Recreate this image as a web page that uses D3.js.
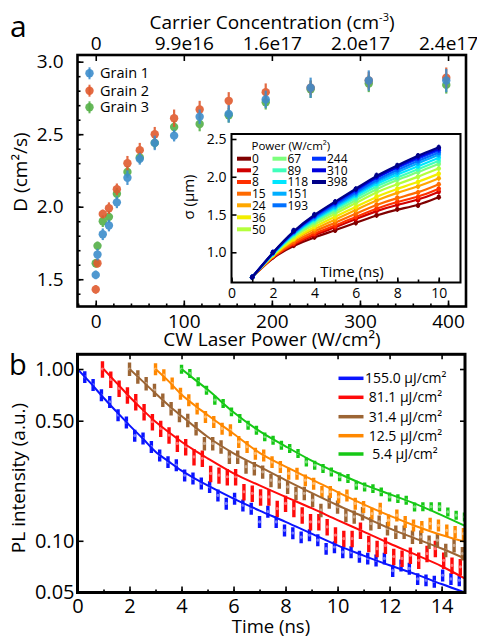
<!DOCTYPE html>
<html><head><meta charset="utf-8">
<script src="https://cdn.jsdelivr.net/npm/d3@7"></script>
<style>
html,body{margin:0;padding:0;background:#fff;}
svg{display:block;font-family:"Open Sans",sans-serif;}
</style></head><body>
<svg id="chart" width="477" height="639"></svg>
<script>
// ---------------- DATA ----------------
// Panel a: diffusion coefficient vs CW laser power
const powers = [0,2,8,15,24,36,50,67,89,118,151,193,244,310,398];
const grainNames = ["Grain 1","Grain 2","Grain 3"];
const grain1D = [1.53,1.67,1.81,1.87,2.03,2.20,2.33,2.44,2.49,2.62,2.64,2.74,2.82,2.87,2.87];
const grain2D = [1.43,1.61,1.95,1.99,2.12,2.30,2.39,2.50,2.61,2.67,2.73,2.79,2.82,2.87,2.89];
const grain3D = [1.61,1.73,1.90,1.93,2.09,2.24,2.34,2.44,2.55,2.57,2.63,2.72,2.81,2.85,2.84];
const grain1Err = [0.03,0.04,0.04,0.04,0.04,0.05,0.04,0.05,0.04,0.05,0.06,0.06,0.07,0.07,0.08];
const grain2Err = [0.03,0.03,0.03,0.04,0.04,0.05,0.05,0.05,0.06,0.06,0.06,0.06,0.05,0.06,0.07];
const grain3Err = [0.03,0.03,0.04,0.04,0.04,0.04,0.04,0.04,0.04,0.05,0.05,0.05,0.06,0.06,0.06];
const bottomTicksA = [0,100,200,300,400];
const carrierLabels = ["0","9.9e16","1.6e17","2.0e17","2.4e17"];
const leftTicksA = [1.5,2.0,2.5,3.0];

// Inset: sigma vs time for each power
const insetTimes = [1,2,3,4,5,6,7,8,9,10];
const sigma_0   = [0.67,0.94,1.09,1.20,1.29,1.39,1.49,1.57,1.62,1.73];
const sigma_2   = [0.67,0.95,1.11,1.23,1.33,1.44,1.55,1.63,1.69,1.80];
const sigma_8   = [0.67,0.95,1.12,1.25,1.35,1.47,1.58,1.67,1.73,1.84];
const sigma_15  = [0.67,0.96,1.14,1.28,1.39,1.51,1.63,1.72,1.79,1.90];
const sigma_24  = [0.67,0.96,1.17,1.31,1.43,1.56,1.69,1.79,1.87,1.98];
const sigma_36  = [0.67,0.97,1.18,1.34,1.47,1.60,1.74,1.84,1.93,2.04];
const sigma_50  = [0.67,0.98,1.21,1.37,1.51,1.65,1.80,1.90,2.00,2.11];
const sigma_67  = [0.67,0.98,1.22,1.40,1.54,1.69,1.84,1.96,2.06,2.17];
const sigma_89  = [0.67,0.98,1.24,1.42,1.57,1.72,1.88,1.99,2.10,2.21];
const sigma_118 = [0.67,0.99,1.25,1.44,1.59,1.75,1.91,2.03,2.14,2.25];
const sigma_151 = [0.67,0.99,1.26,1.45,1.61,1.77,1.94,2.06,2.18,2.29];
const sigma_193 = [0.67,0.99,1.27,1.47,1.63,1.79,1.96,2.09,2.21,2.32];
const sigma_244 = [0.67,1.00,1.28,1.48,1.65,1.81,1.99,2.12,2.24,2.35];
const sigma_310 = [0.67,1.00,1.28,1.49,1.66,1.83,2.00,2.13,2.26,2.37];
const sigma_398 = [0.67,1.00,1.29,1.50,1.67,1.84,2.02,2.15,2.28,2.39];
const insetXTicks = [0,2,4,6,8,10];
const insetYTicks = [1.0,1.5,2.0,2.5];
const legendColumns = [[0,2,8,15,24,36,50],[67,89,118,151,193],[244,310,398]];

// Panel b: PL decay
const fluenceLabels = ["155.0 μJ/cm²"," 81.1 μJ/cm²"," 31.4 μJ/cm²"," 12.5 μJ/cm²","  5.4 μJ/cm²"];
const startTimes = [0.28, 0.96, 2.0, 3.0, 4.0];
const sampleStep = 0.32;
const pl155 = [0.90,0.81,0.705,0.645,0.54,0.49,0.41,0.395,0.353,0.315,0.288,0.276,0.241,0.231,0.216,0.206,0.184,0.165,0.176,0.161,0.154,0.129,0.148,0.129,0.115,0.111,0.105,0.108,0.101,0.090,0.092,0.086,0.086,0.081,0.079,0.077,0.079,0.067,0.072,0.069,0.060,0.059,0.058,0.063,0.060,0.059];
const pl81 = [1.0,0.87,0.772,0.705,0.645,0.564,0.493,0.451,0.4125,0.369,0.353,0.308,0.302,0.2466,0.241,0.236,0.236,0.193,0.189,0.180,0.180,0.154,0.165,0.154,0.141,0.129,0.129,0.1206,0.108,0.103,0.103,0.115,0.0964,0.090,0.094,0.081,0.079,0.0824,0.077,0.0843,0.090,0.077,0.072,0.0705];
const pl31 = [1.0,0.902,0.825,0.754,0.660,0.590,0.539,0.504,0.451,0.369,0.369,0.353,0.308,0.308,0.270,0.264,0.252,0.2255,0.2205,0.206,0.189,0.189,0.1724,0.1508,0.1686,0.1577,0.141,0.1379,0.1442,0.1261,0.1289,0.1179,0.1127,0.1127,0.1054,0.1054,0.0986,0.1008,0.0882,0.094,0.0843];
const pl12 = [1.0,0.923,0.825,0.721,0.660,0.590,0.527,0.493,0.451,0.441,0.377,0.353,0.3225,0.315,0.288,0.270,0.2466,0.2466,0.2255,0.2157,0.193,0.193,0.180,0.184,0.165,0.158,0.144,0.154,0.1318,0.141,0.129,0.1233,0.1206,0.126,0.123,0.115,0.113,0.110];
const pl5 = [1.0,0.943,0.844,0.754,0.660,0.631,0.564,0.516,0.472,0.441,0.4034,0.3858,0.3607,0.3449,0.3225,0.288,0.276,0.264,0.252,0.236,0.2306,0.211,0.206,0.2016,0.193,0.180,0.1763,0.1724,0.1577,0.158,0.158,0.158,0.1475,0.141,0.138];
const fitTimes = [0,0.5,1,1.5,2,2.5,3,3.5,4,4.5,5,6,7,8,9,10,11,12,13,14,14.9];
const fit155 = [1.0,0.83,0.68,0.565,0.47,0.395,0.33,0.29,0.256,0.231,0.21,0.176,0.150,0.129,0.110,0.094,0.082,0.072,0.064,0.056,0.050];
const fit81  = [null,null,1.0,0.83,0.69,0.58,0.493,0.43,0.377,0.336,0.302,0.247,0.21,0.18,0.155,0.132,0.113,0.0964,0.083,0.0711,0.0603];
const fit31  = [null,null,null,null,1.0,0.85,0.721,0.615,0.532,0.462,0.403,0.323,0.27,0.2256,0.19,0.161,0.138,0.118,0.103,0.0902,0.0788];
const fit12  = [null,null,null,null,null,null,1.0,0.85,0.71,0.615,0.54,0.42,0.325,0.27,0.228,0.192,0.163,0.14,0.122,0.108,0.0986];
const fit5   = [null,null,null,null,null,null,null,null,1.0,0.87,0.76,0.56,0.435,0.355,0.293,0.248,0.213,0.187,0.164,0.141,0.122];
const bXTicks = [0,2,4,6,8,10,12,14];
const bYTicks = [0.05,0.10,0.50,1.00];

// ---------------- STYLE ----------------
const grainColors = ["#3d8dcc","#e05a2e","#55b048"];
const powerColors = ["#800000","#d00000","#ff3000","#ff6a00","#ffa800","#f2ee00","#b4ff3c","#7dff7d","#40ffbc","#00e6ff","#00aeff","#0070ff","#0034ff","#0000dc","#000088"];
const fluenceColors = ["#0a14ff","#ff0a0a","#9c6534","#ff8800","#16c816"];
const relErr = [0.08,0.11,0.09,0.08,0.06];

const svg = d3.select("#chart");

// ================= PANEL A =================
const A = {l:77.5, r:466, t:55, b:306.5};
const xA = d3.scaleLinear().domain([-20.7, 420.4]).range([A.l, A.r]);
const yA = d3.scaleLinear().domain([1.312, 3.046]).range([A.b, A.t]);

const grains = [grain1D, grain2D, grain3D];
const grainErrs = [grain1Err, grain2Err, grain3Err];
const gA = svg.append("g");
[2,1,0].forEach(g => {
  const grp = gA.append("g").attr("opacity",0.9);
  powers.forEach((p,i) => {
    const d = grains[g][i], e = grainErrs[g][i];
    grp.append("line").attr("x1",xA(p)).attr("x2",xA(p))
      .attr("y1",yA(d-e)).attr("y2",yA(d+e))
      .attr("stroke",grainColors[g]).attr("stroke-width",2.2);
    grp.append("circle").attr("cx",xA(p)).attr("cy",yA(d)).attr("r",4.2)
      .attr("fill",grainColors[g]);
  });
});

function styleAxis(sel, fs){
  sel.select(".domain").remove();
  sel.selectAll(".tick line").attr("stroke","#000").attr("stroke-width",1.6);
  sel.selectAll(".tick text").attr("font-size",fs).attr("fill","#000").attr("font-family","'Open Sans',sans-serif");
}
svg.append("g").attr("transform",`translate(0,${A.b})`)
  .call(d3.axisBottom(xA).tickValues(d3.range(-20,421,20)).tickSize(-3).tickFormat(""))
  .call(s=>styleAxis(s,19));
svg.append("g").attr("transform",`translate(0,${A.b})`)
  .call(d3.axisBottom(xA).tickValues(bottomTicksA).tickSize(-6).tickPadding(8).tickFormat(d3.format("d")))
  .call(s=>styleAxis(s,19));
svg.append("g").attr("transform",`translate(0,${A.t})`)
  .call(d3.axisTop(xA).tickValues(bottomTicksA).tickSize(-6).tickPadding(5).tickFormat((d,i)=>carrierLabels[i]))
  .call(s=>styleAxis(s,19));
svg.append("g").attr("transform",`translate(${A.l},0)`)
  .call(d3.axisLeft(yA).tickValues(d3.range(14,31).map(v=>v/10)).tickSize(-3).tickFormat(""))
  .call(s=>styleAxis(s,19));
svg.append("g").attr("transform",`translate(${A.l},0)`)
  .call(d3.axisLeft(yA).tickValues(leftTicksA).tickSize(-6).tickPadding(14).tickFormat(d3.format(".1f")))
  .call(s=>styleAxis(s,19));
svg.append("rect").attr("x",A.l).attr("y",A.t).attr("width",A.r-A.l).attr("height",A.b-A.t)
  .attr("fill","none").attr("stroke","#000").attr("stroke-width",2.6);

const topTitle = svg.append("text").attr("x",272).attr("y",29).attr("text-anchor","middle").attr("font-size",19);
topTitle.append("tspan").text("Carrier Concentration (cm");
topTitle.append("tspan").attr("font-size",11).attr("dy",-8).text("-3");
topTitle.append("tspan").attr("dy",8).text(")");
svg.append("text").attr("x",272).attr("y",346).attr("text-anchor","middle").attr("font-size",19).text("CW Laser Power (W/cm²)");
svg.append("text").attr("transform","translate(27,172) rotate(-90)").attr("text-anchor","middle").attr("font-size",19).text("D (cm²/s)");
svg.append("text").attr("x",10).attr("y",37).attr("font-size",30).text("a");

const legY = [73.3, 90.7, 107.3];
grainNames.forEach((n,i)=>{
  svg.append("line").attr("x1",89.5).attr("x2",89.5).attr("y1",legY[i]-6).attr("y2",legY[i]+6)
    .attr("stroke",grainColors[i]).attr("stroke-width",2).attr("opacity",0.9);
  svg.append("circle").attr("cx",89.5).attr("cy",legY[i]).attr("r",4.2).attr("fill",grainColors[i]).attr("opacity",0.9);
  svg.append("text").attr("x",100).attr("y",legY[i]+5).attr("font-size",14.5).text(n);
});

// ================= INSET =================
const I = {l:231.5, r:460.5, t:134, b:282.5};
const xI = d3.scaleLinear().domain([0, 11.05]).range([I.l, I.r]);
const yI = d3.scaleLinear().domain([0.60, 2.566]).range([I.b, I.t]);
svg.append("rect").attr("x",I.l).attr("y",I.t).attr("width",I.r-I.l).attr("height",I.b-I.t).attr("fill","#fff");

const sigmaSeries = [sigma_0,sigma_2,sigma_8,sigma_15,sigma_24,sigma_36,sigma_50,sigma_67,sigma_89,sigma_118,sigma_151,sigma_193,sigma_244,sigma_310,sigma_398];
const lineI = d3.line().x((d,i)=>xI(insetTimes[i])).y(d=>yI(d)).curve(d3.curveBasis);
const gI = svg.append("g");
sigmaSeries.forEach((s,k)=>{
  gI.append("path").attr("d",lineI(s)).attr("fill","none").attr("stroke",powerColors[k]).attr("stroke-width",2.2);
  s.forEach((v,i)=>{
    gI.append("line").attr("x1",xI(insetTimes[i])).attr("x2",xI(insetTimes[i]))
      .attr("y1",yI(v-0.035)).attr("y2",yI(v+0.035)).attr("stroke",powerColors[k]).attr("stroke-width",1.6);
    gI.append("circle").attr("cx",xI(insetTimes[i])).attr("cy",yI(v)).attr("r",2.3).attr("fill",powerColors[k]);
  });
});

svg.append("g").attr("transform",`translate(0,${I.b})`)
  .call(d3.axisBottom(xI).tickValues(d3.range(0,11,1)).tickSize(-3).tickFormat(""))
  .call(s=>styleAxis(s,14));
svg.append("g").attr("transform",`translate(0,${I.b})`)
  .call(d3.axisBottom(xI).tickValues(insetXTicks).tickSize(-5).tickPadding(6).tickFormat(d3.format("d")))
  .call(s=>styleAxis(s,14));
svg.append("g").attr("transform",`translate(${I.l},0)`)
  .call(d3.axisLeft(yI).tickValues(insetYTicks).tickSize(-5).tickPadding(5).tickFormat(d3.format(".1f")))
  .call(s=>styleAxis(s,14));
svg.append("rect").attr("x",I.l).attr("y",I.t).attr("width",I.r-I.l).attr("height",I.b-I.t)
  .attr("fill","none").attr("stroke","#000").attr("stroke-width",2);
svg.append("text").attr("x",352).attr("y",277).attr("text-anchor","middle").attr("font-size",15).text("Time (ns)");
svg.append("text").attr("transform","translate(194,197) rotate(-90)").attr("text-anchor","middle").attr("font-size",15).text("σ (μm)");

// inset legend
svg.append("text").attr("x",251.5).attr("y",150).attr("font-size",11.5).text("Power (W/cm²)");
const colX = [237, 272.5, 312];
const rowY = [158.7,170.3,182,193.7,205.3,217.3,229.3];
legendColumns.forEach((col,c)=>{
  col.forEach((p,r)=>{
    const k = powers.indexOf(p);
    svg.append("line").attr("x1",colX[c]).attr("x2",colX[c]+14).attr("y1",rowY[r]).attr("y2",rowY[r])
      .attr("stroke",powerColors[k]).attr("stroke-width",4);
    svg.append("text").attr("x",colX[c]+15).attr("y",rowY[r]+4.3).attr("font-size",12).text(p);
  });
});

// ================= PANEL B =================
const B = {l:77.5, r:465, t:354.3, b:592.5};
const xB = d3.scaleLinear().domain([0, 14.9]).range([B.l, B.r]);
const yB = d3.scaleLog().domain([0.05, 1.218]).range([B.b, B.t]);

svg.append("defs").append("clipPath").attr("id","clipB")
  .append("rect").attr("x",B.l).attr("y",B.t).attr("width",B.r-B.l).attr("height",B.b-B.t);
const gB = svg.append("g").attr("clip-path","url(#clipB)");

const plSeries = [pl155, pl81, pl31, pl12, pl5];
const fitSeries = [fit155, fit81, fit31, fit12, fit5];
const lineB = d3.line().defined(d=>d!=null).x((d,i)=>xB(fitTimes[i])).y(d=>yB(d)).curve(d3.curveMonotoneX);

plSeries.forEach((s,k)=>{
  const col = fluenceColors[k];
  const light = d3.interpolateRgb(col,"#ffffff")(0.45);
  s.forEach((v,i)=>{
    const t = startTimes[k] + i*sampleStep;
    gB.append("line").attr("x1",xB(t)).attr("x2",xB(t))
      .attr("y1",yB(v*(1-relErr[k]))).attr("y2",yB(v*(1+relErr[k])))
      .attr("stroke",col).attr("stroke-width",3.4);
    gB.append("circle").attr("cx",xB(t)).attr("cy",yB(v)).attr("r",1.6).attr("fill",light);
  });
});
fitSeries.forEach((f,k)=>{
  gB.append("path").attr("d",lineB(f)).attr("fill","none").attr("stroke",fluenceColors[k]).attr("stroke-width",2);
});

svg.append("g").attr("transform",`translate(0,${B.b})`)
  .call(d3.axisBottom(xB).tickValues(d3.range(0,15,1)).tickSize(-3).tickFormat(""))
  .call(s=>styleAxis(s,20));
svg.append("g").attr("transform",`translate(0,${B.b})`)
  .call(d3.axisBottom(xB).tickValues(bXTicks).tickSize(-6).tickPadding(6).tickFormat(d3.format("d")))
  .call(s=>styleAxis(s,20));
svg.append("g").attr("transform",`translate(0,${B.t})`)
  .call(d3.axisTop(xB).tickValues(bXTicks).tickSize(-5).tickFormat(""))
  .call(s=>styleAxis(s,20));
svg.append("g").attr("transform",`translate(${B.l},0)`)
  .call(d3.axisLeft(yB).tickValues(bYTicks).tickSize(-6).tickPadding(3).tickFormat(d3.format(".2f")))
  .call(s=>styleAxis(s,20));
svg.append("g").attr("transform",`translate(${B.r},0)`)
  .call(d3.axisRight(yB).tickValues(bYTicks).tickSize(-5).tickFormat(""))
  .call(s=>styleAxis(s,20));
svg.append("rect").attr("x",B.l).attr("y",B.t).attr("width",B.r-B.l).attr("height",B.b-B.t)
  .attr("fill","none").attr("stroke","#000").attr("stroke-width",3);

svg.append("text").attr("x",271).attr("y",633).attr("text-anchor","middle").attr("font-size",18.5).text("Time (ns)");
svg.append("text").attr("transform","translate(25,478) rotate(-90)").attr("text-anchor","middle").attr("font-size",19).text("PL intensity (a.u.)");
svg.append("text").attr("x",9).attr("y",375).attr("font-size",29).text("b");

const legBY = [378.3, 397.3, 416.7, 435.7, 454];
fluenceLabels.forEach((lab,k)=>{
  svg.append("line").attr("x1",338.5).attr("x2",363.5).attr("y1",legBY[k]).attr("y2",legBY[k])
    .attr("stroke",fluenceColors[k]).attr("stroke-width",3.5);
  svg.append("text").attr("x",365).attr("y",legBY[k]+5).attr("font-size",14).style("white-space","pre").text(lab);
});
</script>
</body></html>
